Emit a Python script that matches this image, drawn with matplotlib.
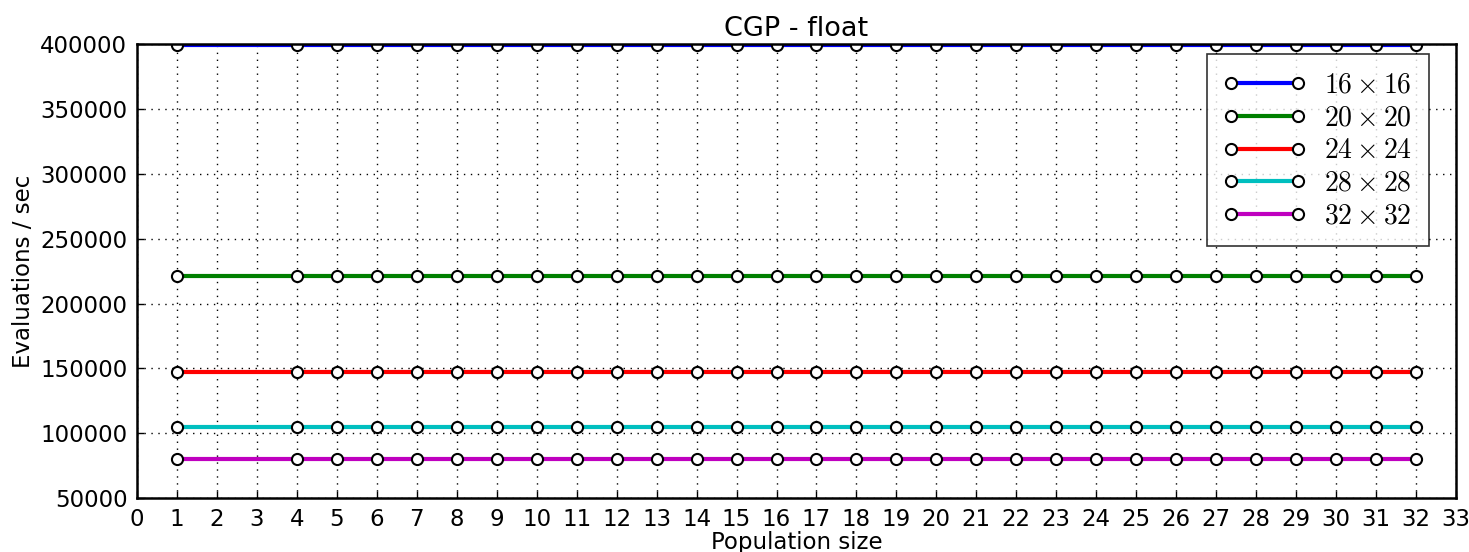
#!/usr/bin/env python3
"""
Evaluations per second of CGP (float) for different grid sizes.
"""
import matplotlib
matplotlib.use("Agg")
import matplotlib.pyplot as plt
from matplotlib.legend_handler import HandlerLine2D

# --- Data ---
population = [1, 4, 5, 6, 7, 8, 9, 10, 11, 12, 13, 14, 15, 16, 17, 18,
              19, 20, 21, 22, 23, 24, 25, 26, 27, 28, 29, 30, 31, 32]

grid_labels = [r"$16\times16$", r"$20\times20$", r"$24\times24$",
               r"$28\times28$", r"$32\times32$"]
grid_colors = ["b", "g", "r", "c", "m"]

evals_16 = [399700] * len(population)
evals_20 = [221400] * len(population)
evals_24 = [147400] * len(population)
evals_28 = [105100] * len(population)
evals_32 = [79800] * len(population)
series = [evals_16, evals_20, evals_24, evals_28, evals_32]


def main():
    plt.rcParams["mathtext.fontset"] = "cm"

    fig = plt.figure(figsize=(14.69, 5.52), dpi=100)
    ax = fig.add_axes([0.0933, 0.0978, 0.8978, 0.8222])

    lines = []
    for values, label, color in zip(series, grid_labels, grid_colors):
        line, = ax.plot(population, values, "-o", color=color, lw=3,
                        label=label, markersize=8, markerfacecolor="white",
                        markeredgecolor="black", markeredgewidth=1.5)
        lines.append(line)

    ax.set_xlim(0, 33)
    ax.set_ylim(50000, 400000)
    ax.set_xticks(range(0, 34))
    ax.set_yticks(range(50000, 400001, 50000))
    ax.tick_params(direction="in", length=5, width=1, pad=7, labelsize=16.5)
    ax.grid(True, color="black", linestyle=(0, (1, 4)), linewidth=1.0)
    for spine in ax.spines.values():
        spine.set_linewidth(1.8)

    ax.set_title("CGP - float", fontsize=19.5, pad=6)
    ax.set_xlabel("Population size", fontsize=16.5, labelpad=0)
    ax.set_ylabel("Evaluations / sec", fontsize=16.5, labelpad=4)

    # markers sit on the ends of the legend line, shifted a bit to the right
    handler = {ln: HandlerLine2D(marker_pad=0.0, numpoints=2, xpad=0.25)
               for ln in lines}
    leg = ax.legend(loc="upper right", fontsize=20, handler_map=handler,
                    fancybox=False, shadow=False, borderpad=0.6,
                    labelspacing=0.17, handlelength=2.65, handletextpad=0.95,
                    borderaxespad=0, bbox_to_anchor=(0.9795, 0.978))
    leg.get_frame().set_edgecolor("black")
    leg.get_frame().set_linewidth(1.2)

    fig.savefig("out.png", dpi=100)


if __name__ == "__main__":
    main()
